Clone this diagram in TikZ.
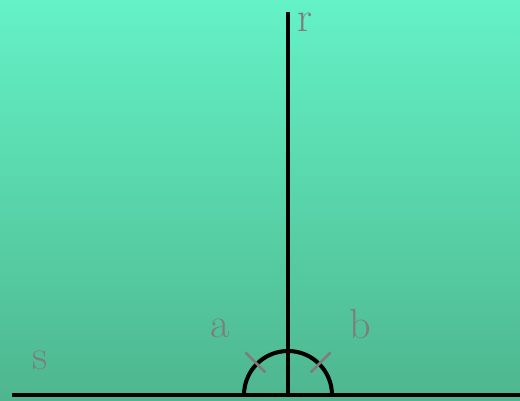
\documentclass[tikz,border=0pt]{standalone}
\usepackage{tikz}
\usetikzlibrary{calc}

\definecolor{bgtop}{RGB}{100,242,198}
\definecolor{bgbot}{RGB}{78,182,142}
\definecolor{lblgray}{RGB}{125,125,125}

\begin{document}
\begin{tikzpicture}[
  x=0.02cm, y=-0.02cm,
  %% styles
  ray/.style={line width=2.3pt, black},
  tickmark/.style={line width=1.6pt, lblgray},
  lbl/.style={font=\fontsize{24}{28}\selectfont, text=lblgray, inner sep=0pt}
]

%% ── background ───────────────────────────────────────────────
\shade[top color=bgtop, bottom color=bgbot] (0,0) rectangle (520,401);
\useasboundingbox (0,0) rectangle (520,401);

%% ── points ───────────────────────────────────────────────────
\coordinate (O) at (288,395);
\coordinate (R) at (288,12);
\coordinate (S) at (12,395);
\coordinate (E) at (520,395);

%% ── lines and the arc ────────────────────────────────────────
\draw[ray] (S) -- (E);
\draw[ray] (O) -- (R);
\draw[ray] ($(O)+(44,0)$) arc[start angle=0, end angle=-180, radius=44];

%% equal-angle ticks
\draw[tickmark] ($(O)+(-45:32)$) -- ($(O)+(-45:60)$);
\draw[tickmark] ($(O)+(-135:32)$) -- ($(O)+(-135:60)$);

%% ── labels ───────────────────────────────────────────────────
\node[lbl] (rlbl) at (305,22) {r};
\node[lbl] (slbl) at (40,360) {s};
\node[lbl] (albl) at (220,328) {a};
\node[lbl] (blbl) at (360,324) {b};

\end{tikzpicture}
\end{document}
